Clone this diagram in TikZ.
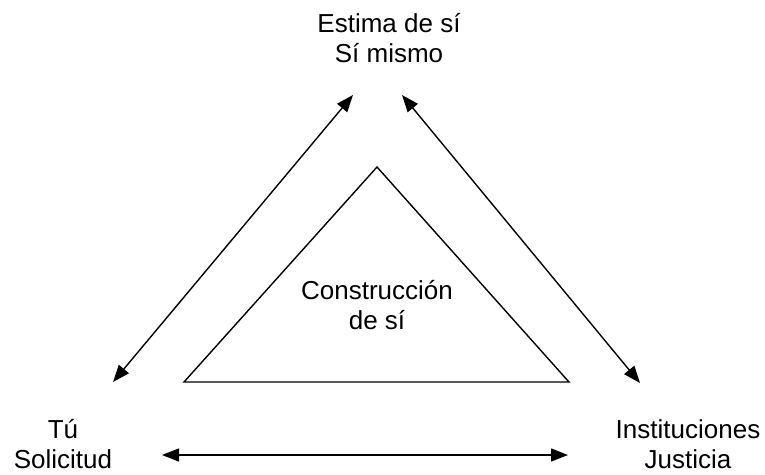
\documentclass[tikz,border=0pt]{standalone}
\usepackage{fontspec}
\setmainfont{Liberation Sans}
\usetikzlibrary{arrows.meta}
\begin{document}
\begin{tikzpicture}[x=1pt,y=1pt,
  lbl/.style={inner sep=0pt, align=center, anchor=base, font=\fontsize{26}{30}\selectfont},
  link/.style={line width=1.4pt, {Triangle[length=17pt,width=13pt]}-{Triangle[length=17pt,width=13pt]}},
  tri/.style={line width=1.4pt, line join=miter}]
\useasboundingbox (0,0) rectangle (765,474);
\node[lbl] (top) at (389,411) {Estima de sí\\Sí mismo};
\node[lbl] (left) at (63,6) {Tú\\Solicitud};
\node[lbl] (right) at (688,6) {Instituciones\\Justicia};
\node[lbl] (center) at (377,144) {Construcción\\de sí};
\coordinate (tl) at (353,379);
\coordinate (tr) at (402,379);
\coordinate (lu) at (113,92);
\coordinate (ru) at (640,91);
\coordinate (lb) at (162,19);
\coordinate (rb) at (568,19);
\coordinate (apex) at (377,307);
\coordinate (bl) at (184,92);
\coordinate (br) at (569,92);
\draw[link] (lu) -- (tl);
\draw[link] (ru) -- (tr);
\draw[link] (lb) -- (rb);
\draw[tri] (apex) -- (bl) -- (br) -- cycle;
\end{tikzpicture}
\end{document}
